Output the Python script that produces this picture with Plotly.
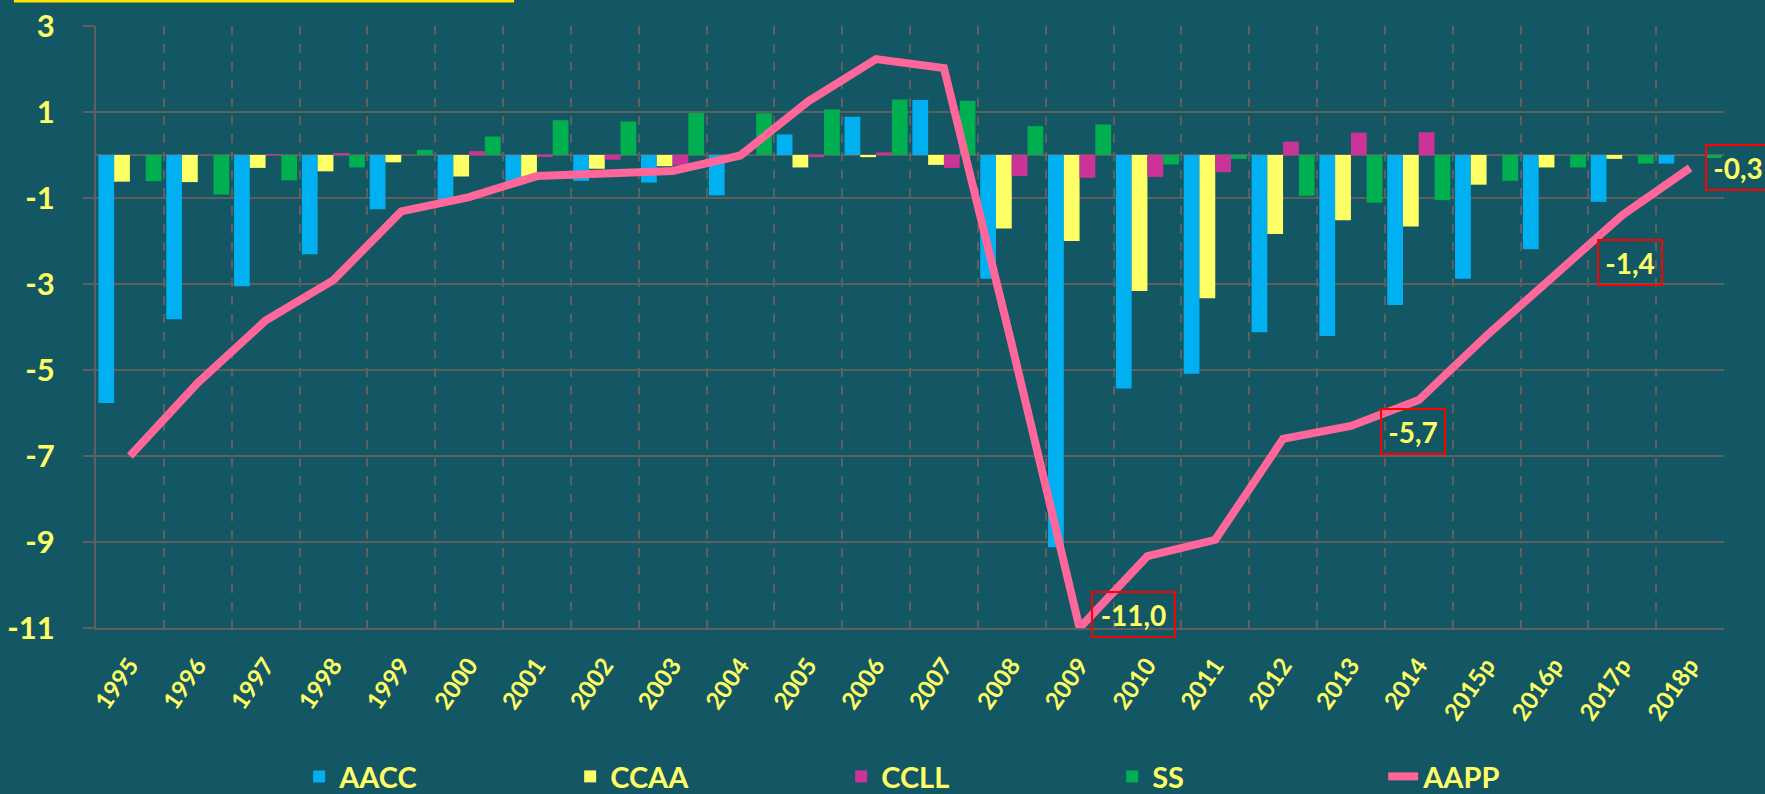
import plotly.graph_objects as go

years = ["1995", "1996", "1997", "1998", "1999", "2000", "2001", "2002", "2003", "2004",
         "2005", "2006", "2007", "2008", "2009", "2010", "2011", "2012", "2013", "2014",
         "2015p", "2016p", "2017p", "2018p"]

aacc = [-5.77, -3.82, -3.05, -2.31, -1.26, -1.05, -0.63, -0.60, -0.64, -0.94,
        0.48, 0.89, 1.28, -2.88, -9.12, -5.43, -5.09, -4.12, -4.21, -3.49,
        -2.88, -2.19, -1.09, -0.20]
ccaa = [-0.62, -0.63, -0.30, -0.38, -0.17, -0.50, -0.51, -0.32, -0.26, 0.00,
        -0.29, -0.05, -0.23, -1.71, -2.00, -3.16, -3.33, -1.84, -1.52, -1.66,
        -0.69, -0.29, -0.09, 0.00]
ccll = [0.00, 0.00, 0.02, 0.03, 0.00, 0.09, -0.03, -0.11, -0.24, 0.00,
        -0.05, 0.06, -0.30, -0.49, -0.53, -0.51, -0.40, 0.31, 0.52, 0.53,
        0.00, 0.00, 0.00, 0.00]
ss = [-0.61, -0.92, -0.59, -0.29, 0.12, 0.43, 0.81, 0.78, 0.98, 0.97,
      1.06, 1.29, 1.26, 0.67, 0.71, -0.22, -0.09, -0.95, -1.11, -1.05,
      -0.60, -0.29, -0.20, -0.07]
aapp = [-7.0, -5.3, -3.85, -2.91, -1.31, -0.98, -0.49, -0.41, -0.37, -0.01,
        1.25, 2.23, 2.02, -4.4, -11.0, -9.33, -8.95, -6.6, -6.3, -5.7,
        -4.2, -2.8, -1.4, -0.3]

y_ticks = [3, 1, -1, -3, -5, -7, -9, -11]

# labelled points of the AAPP line and label box offsets (px)
label_years = ["2009", "2014", "2017p", "2018p"]
label_dx = [54, -6, 8, 48]
label_dy = [14, -31, -47, 0]
label_w = [77, 58, 58, 58]

BG = "#125763"
GRID = "#5f5f5f"
TXT = "#FFFF66"
FONT = "Lato"

fig = go.Figure()
series = [("AACC", aacc, "#00B0F0"), ("CCAA", ccaa, "#FFFF66"),
          ("CCLL", ccll, "#CC3399"), ("SS", ss, "#00B050")]
for name, vals, col in series:
    fig.add_trace(go.Bar(x=years, y=vals, name=name, marker=dict(color=col, line=dict(width=0))))

fig.add_trace(go.Scatter(x=years, y=aapp, name="AAPP", mode="lines",
                         line=dict(color="#FF6699", width=8)))

for yr, dx, dy, w in zip(label_years, label_dx, label_dy, label_w):
    i = years.index(yr)
    v = aapp[i]
    fig.add_annotation(x=i, y=v, xref="x", yref="y", showarrow=False,
                       text=f"{v:.1f}".replace(".", ","), xshift=dx, yshift=dy,
                       xanchor="center", yanchor="middle",
                       width=w, height=39, borderpad=2, borderwidth=2,
                       bordercolor="#FF0000",
                       font=dict(family=FONT, size=28, color=TXT, weight=700))

# partially visible yellow frame line at the top
fig.add_shape(type="line", xref="paper", yref="paper", x0=-0.0504, x1=0.2568,
              y0=1.0415, y1=1.0415, line=dict(color="#FFE600", width=3))

fig.update_layout(
    width=1765, height=794,
    paper_bgcolor=BG, plot_bgcolor=BG,
    margin=dict(l=96, r=41, t=26, b=166),
    barmode="group", bargap=0.07, bargroupgap=0,
    font=dict(family=FONT, color=TXT, weight=700),
    showlegend=True,
    legend=dict(orientation="h", xref="container", yref="container",
                x=0.1695, y=0.022, xanchor="left", yanchor="middle",
                entrywidth=226, entrywidthmode="pixels",
                font=dict(family=FONT, size=29, color=TXT, weight=700),
                bgcolor="rgba(0,0,0,0)", traceorder="normal"),
    xaxis=dict(type="category", categoryorder="array", categoryarray=years,
               range=[-0.5, len(years) - 0.5], tickson="boundaries", showgrid=True,
               gridcolor=GRID, gridwidth=1.5, griddash="dash", automargin=False,
               showline=True, linecolor=GRID, linewidth=2, ticks="",
               tickangle=-55, ticklabelstandoff=12,
               tickfont=dict(family=FONT, size=24, color=TXT, weight=700)),
    yaxis=dict(range=[-11, 3], tickmode="array", tickvals=y_ticks,
               ticktext=[str(t) for t in y_ticks], showgrid=True, automargin=False,
               gridcolor=GRID, gridwidth=2, zeroline=True, zerolinecolor=GRID,
               zerolinewidth=2, showline=True, linecolor=GRID, linewidth=2,
               ticks="outside", ticklen=11, tickcolor=GRID, tickwidth=2,
               ticklabelstandoff=22,
               tickfont=dict(family=FONT, size=31, color=TXT, weight=700)),
)

fig.write_html("out.html", config={"displayModeBar": False},
               post_script="document.body.style.margin='0';")
